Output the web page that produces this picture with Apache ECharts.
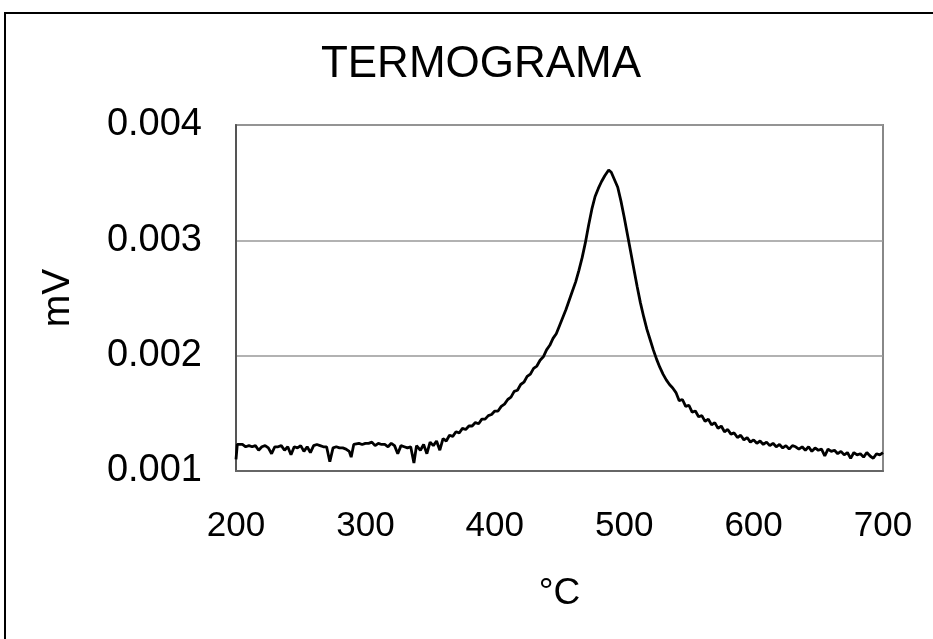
<!DOCTYPE html>
<html>
<head>
<meta charset="utf-8">
<script src="https://cdn.jsdelivr.net/npm/echarts@6/dist/echarts.min.js"></script>
<style>
  html, body { margin: 0; padding: 0; background: #fff; }
  #chart { width: 933px; height: 639px; }
</style>
</head>
<body>
<div id="chart"></div>
<script>
const temps = [
  200, 201, 202.5, 205, 207.5, 210, 212.5, 215, 217.5, 220, 222.5, 225, 227.5, 230, 232.5, 235, 237.5, 240, 242.5, 245,
  247.5, 250, 252.5, 255, 257.5, 260, 262.5, 265, 267.5, 270, 272.5, 275, 277.5, 280, 282.5, 285, 287.5, 289, 291, 292.5,
  295, 297.5, 300, 302.5, 305, 307.5, 310, 312.5, 315, 317.5, 320, 322.5, 325, 327.5, 330, 332.5, 335, 337.5, 339.5, 342.5,
  345, 347.5, 350, 352.5, 355, 357.5, 360, 362.5, 365, 367.5, 370, 372.5, 375, 377.5, 380, 382.5, 385, 387.5, 390, 392.5,
  395, 397.5, 400, 402.5, 405, 407.5, 410, 412.5, 415, 417.5, 420, 422.5, 425, 427.5, 430, 432.5, 435, 437.5, 440, 442.5,
  445, 447.5, 450, 455, 460, 462.5, 465, 467.5, 470, 472.5, 475, 477.5, 480, 482.5, 485, 488, 490, 495, 497.5, 500,
  502.5, 505, 507.5, 510, 512.5, 515, 517.5, 520, 522.5, 525, 527.5, 530, 532.5, 535, 537.5, 540, 542.5, 545, 547.5, 550,
  552.5, 555, 557.5, 560, 562.5, 565, 567.5, 570, 572.5, 575, 577.5, 580, 582.5, 585, 587.5, 590, 592.5, 595, 597.5, 600,
  602.5, 605, 607.5, 610, 612.5, 615, 617.5, 620, 622.5, 625, 627.5, 630, 632.5, 635, 637.5, 640, 642.5, 645, 647.5, 650,
  652.5, 655, 657.5, 660, 662.5, 665, 667.5, 670, 672.5, 675, 677.5, 680, 682.5, 685, 687.5, 690, 692.5, 695, 697.5, 700
];
const mV = [
  0.00110, 0.00123, 0.00122, 0.00123, 0.00121, 0.00122, 0.00121, 0.00122, 0.00118, 0.00121, 0.00122, 0.00120, 0.00115, 0.00121, 0.00121, 0.00122, 0.00118, 0.00121, 0.00114, 0.00121,
  0.00120, 0.00122, 0.00117, 0.00121, 0.00116, 0.00122, 0.00123, 0.00122, 0.00121, 0.00121, 0.00108, 0.00120, 0.00121, 0.00120, 0.00120, 0.00119, 0.00117, 0.00112, 0.00123, 0.00122,
  0.00124, 0.00123, 0.00124, 0.00124, 0.00125, 0.00122, 0.00124, 0.00123, 0.00123, 0.00121, 0.00124, 0.00122, 0.00115, 0.00122, 0.00121, 0.00120, 0.00121, 0.00107, 0.00122, 0.00118,
  0.00123, 0.00115, 0.00125, 0.00122, 0.00126, 0.00118, 0.00128, 0.00126, 0.00131, 0.00130, 0.00134, 0.00133, 0.00137, 0.00136, 0.00139, 0.00139, 0.00142, 0.00141, 0.00145, 0.00145,
  0.00148, 0.00149, 0.00152, 0.00152, 0.00156, 0.00158, 0.00162, 0.00164, 0.00169, 0.00170, 0.00175, 0.00177, 0.00182, 0.00184, 0.00189, 0.00191, 0.00196, 0.00199, 0.00205, 0.00209,
  0.00215, 0.00219, 0.00226, 0.00240, 0.00256, 0.00264, 0.00274, 0.00285, 0.00298, 0.00313, 0.00327, 0.00338, 0.00345, 0.00351, 0.00356, 0.00361, 0.00359, 0.00346, 0.00334, 0.00320,
  0.00305, 0.00290, 0.00275, 0.00260, 0.00246, 0.00234, 0.00223, 0.00214, 0.00205, 0.00197, 0.00190, 0.00184, 0.00179, 0.00175, 0.00172, 0.00168, 0.00161, 0.00162, 0.00156, 0.00157,
  0.00151, 0.00152, 0.00147, 0.00148, 0.00143, 0.00145, 0.00140, 0.00142, 0.00137, 0.00139, 0.00134, 0.00136, 0.00132, 0.00133, 0.00129, 0.00131, 0.00127, 0.00129, 0.00125, 0.00127,
  0.00124, 0.00126, 0.00123, 0.00125, 0.00122, 0.00124, 0.00121, 0.00123, 0.00120, 0.00122, 0.00119, 0.00122, 0.00121, 0.00119, 0.00121, 0.00118, 0.00121, 0.00117, 0.00120, 0.00118,
  0.00119, 0.00113, 0.00119, 0.00117, 0.00118, 0.00115, 0.00117, 0.00114, 0.00116, 0.00111, 0.00116, 0.00114, 0.00115, 0.00112, 0.00116, 0.00113, 0.00111, 0.00115, 0.00114, 0.00116
];
const xTicks = [200, 300, 400, 500, 600, 700];
const yTicks = [0.001, 0.002, 0.003, 0.004];

const font = '"Liberation Sans", Arial, sans-serif';
let myChart = echarts.init(document.getElementById("chart"));
myChart.setOption({
  animation: false,
  backgroundColor: "#fff",
  title: {
    text: "TERMOGRAMA",
    left: 476,
    textAlign: "center",
    top: 38,
    textStyle: { fontFamily: font, fontSize: 44, fontWeight: "normal", color: "#000" }
  },
  graphic: [
    {
      type: "rect",
      shape: { x: 5, y: 13, width: 1000, height: 1000 },
      style: { fill: "none", stroke: "#000", lineWidth: 2 },
      silent: true
    }
  ],
  grid: {
    left: 236,
    top: 125,
    right: 50,
    bottom: 168,
    show: true,
    borderColor: "#888",
    borderWidth: 2
  },
  xAxis: {
    type: "value",
    min: xTicks[0],
    max: xTicks[xTicks.length - 1],
    interval: 100,
    name: "°C",
    nameLocation: "middle",
    nameGap: 104,
    nameTextStyle: { fontFamily: font, fontSize: 37, color: "#000" },
    axisLine: { show: true, lineStyle: { color: "#666", width: 2 } },
    axisTick: { show: false },
    splitLine: { show: false },
    axisLabel: { fontFamily: font, fontSize: 35, color: "#000", margin: 38 }
  },
  yAxis: {
    type: "value",
    min: yTicks[0],
    max: yTicks[yTicks.length - 1],
    interval: 0.001,
    name: "mV",
    nameLocation: "middle",
    nameGap: 158,
    nameTextStyle: { fontFamily: font, fontSize: 39, color: "#000" },
    axisLine: { show: true, lineStyle: { color: "#555", width: 2 } },
    axisTick: { show: false },
    splitLine: { show: true, lineStyle: { color: "#999", width: 1.5 } },
    axisLabel: {
      fontFamily: font,
      fontSize: 38,
      color: "#000",
      margin: 34,
      formatter: v => v.toFixed(3)
    }
  },
  series: [
    {
      type: "line",
      data: temps.map((t, i) => [t, mV[i]]),
      showSymbol: false,
      lineStyle: { color: "#000", width: 2.8 },
      z: 3
    }
  ]
});
</script>
</body>
</html>
